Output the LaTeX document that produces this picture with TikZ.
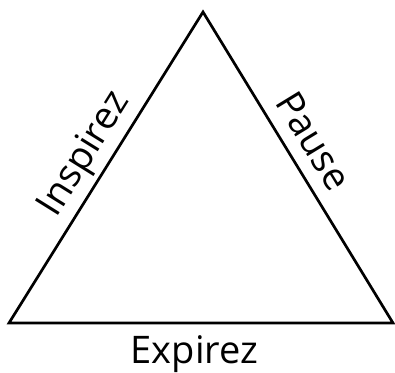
\documentclass[tikz,border=0pt]{standalone}
\usepackage{fontspec}
\setmainfont{Open Sans}
\tikzset{
  side/.style={line width=2.7pt, line join=miter},
  sidelabel/.style={sloped, anchor=base, yshift=14pt, font=\fontsize{38}{44}\selectfont},
}
\begin{document}
\begin{tikzpicture}[x=1pt,y=1pt]
        \useasboundingbox (0,0) rectangle (395,372);
        \coordinate (L) at (9,49);
        \coordinate (T) at (203,360);
        \coordinate (R) at (393,49);
        \draw[side] (L) -- node[sidelabel, pos=0.5, yshift=1pt] {Inspirez} (T)
                        -- node[sidelabel, pos=0.46] {Pause} (R) -- cycle;
        \node[anchor=base, font=\fontsize{38}{44}\selectfont] (E) at (194.5,8.5) {Expirez};
    \end{tikzpicture}
\end{document}
